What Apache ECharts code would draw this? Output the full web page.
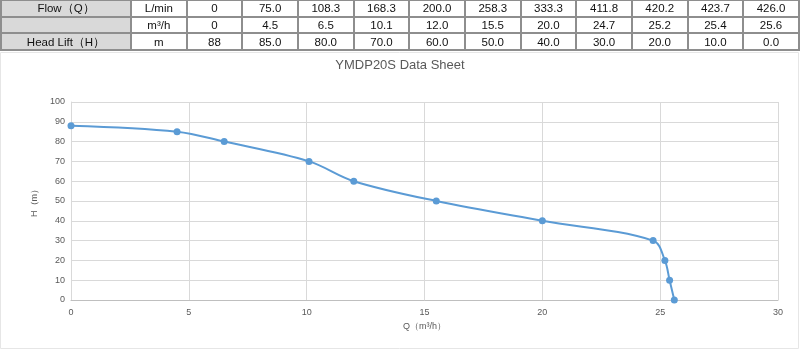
<!DOCTYPE html>
<html>
<head>
<meta charset="utf-8">
<script src="https://cdn.jsdelivr.net/npm/echarts@6/dist/echarts.min.js"></script>
<style>
  html, body { margin: 0; padding: 0; background: #fff; }
  #wrap { position: relative; width: 800px; height: 350px; overflow: hidden; }
  #chart { position: absolute; left: 0; top: 0; width: 800px; height: 350px; }
  #spec {
    position: absolute; left: 0; top: -1px; z-index: 2;
    border-collapse: collapse; table-layout: fixed; width: 798px;
    font-family: "Liberation Sans", Arial, sans-serif; font-size: 11.5px; color: #111;
  }
  #spec tr { height: 16.7px; }
  #spec td {
    border: 2px solid #8e8e8e; padding: 0; line-height: 12px;
    text-align: center; white-space: nowrap; background: #fff;
  }
  #spec td.head { background: #d9d9d9; }
</style>
</head>
<body>
<div id="wrap">
  <div id="chart"></div>
  <table id="spec"></table>
</div>
<script>
// Pump performance points
const flowLmin = ['0', '75.0', '108.3', '168.3', '200.0', '258.3', '333.3', '411.8', '420.2', '423.7', '426.0'];
const flowM3h  = [0, 4.5, 6.5, 10.1, 12.0, 15.5, 20.0, 24.7, 25.2, 25.4, 25.6];
const headM    = [88, 85.0, 80.0, 70.0, 60.0, 50.0, 40.0, 30.0, 20.0, 10.0, 0.0];

const flowM3hText = ['0', '4.5', '6.5', '10.1', '12.0', '15.5', '20.0', '24.7', '25.2', '25.4', '25.6'];
const headMText   = ['88', '85.0', '80.0', '70.0', '60.0', '50.0', '40.0', '30.0', '20.0', '10.0', '0.0'];

const chartTitle = 'YMDP20S Data Sheet';
const xName = 'Q（m³/h）';
const yName = 'H（m）';

// Spec table above the chart
(function buildTable() {
  const t = document.getElementById('spec');
  const cg = document.createElement('colgroup');
  const widths = [130].concat(new Array(12).fill((798 - 130) / 12));
  widths.forEach(w => { const c = document.createElement('col'); c.style.width = w + 'px'; cg.appendChild(c); });
  t.appendChild(cg);
  const rows = [
    ['Flow（Q）', 'L/min', flowLmin],
    ['', 'm³/h', flowM3hText],
    ['Head Lift（H）', 'm', headMText]
  ];
  rows.forEach(r => {
    const tr = document.createElement('tr');
    const h = document.createElement('td'); h.className = 'head'; h.textContent = r[0]; tr.appendChild(h);
    const u = document.createElement('td'); u.textContent = r[1]; tr.appendChild(u);
    r[2].forEach(v => { const d = document.createElement('td'); d.textContent = v; tr.appendChild(d); });
    t.appendChild(tr);
  });
})();

const chart = echarts.init(document.getElementById('chart'), null, { renderer: 'canvas' });
const gridColor = '#d9d9d9';
const labelColor = '#595959';
const font = '"Liberation Sans", Arial, sans-serif';

chart.setOption({
  animation: false,
  backgroundColor: '#fff',
  title: {
    text: chartTitle, left: 'center', top: 59, padding: 0,
    textStyle: { fontFamily: font, fontSize: 13, fontWeight: 'normal', color: labelColor }
  },
  graphic: [{
    type: 'rect', z: -1, silent: true,
    shape: { x: 0.5, y: 52.5, width: 798, height: 296 },
    style: { fill: 'none', stroke: '#e6e6e6', lineWidth: 1 }
  }],
  grid: { left: 71, right: 22, top: 102, bottom: 50, containLabel: false },
  xAxis: {
    type: 'value', min: 0, max: 30, interval: 5,
    name: xName, nameLocation: 'middle', nameGap: 21,
    nameTextStyle: { fontFamily: font, fontSize: 9, color: labelColor },
    axisLine: { show: true, lineStyle: { color: '#bfbfbf', width: 1 } },
    axisTick: { show: false },
    axisLabel: { fontFamily: font, fontSize: 9, color: labelColor, margin: 8 },
    splitLine: { show: true, lineStyle: { color: gridColor, width: 1 } }
  },
  yAxis: {
    type: 'value', min: 0, max: 100, interval: 10,
    name: yName, nameLocation: 'middle', nameGap: 27, nameRotate: 90,
    nameTextStyle: { fontFamily: font, fontSize: 9, color: labelColor },
    axisLine: { show: true, lineStyle: { color: gridColor, width: 1 } },
    axisTick: { show: false },
    axisLabel: { fontFamily: font, fontSize: 9, color: labelColor, margin: 6 },
    splitLine: { show: true, lineStyle: { color: gridColor, width: 1 } }
  },
  series: [{
    type: 'line',
    data: flowM3h.map((q, i) => [q, headM[i]]),
    smooth: 0.35,
    symbol: 'circle', symbolSize: 7,
    lineStyle: { color: '#5b9bd5', width: 2 },
    itemStyle: { color: '#5b9bd5' }
  }]
});
</script>
</body>
</html>
